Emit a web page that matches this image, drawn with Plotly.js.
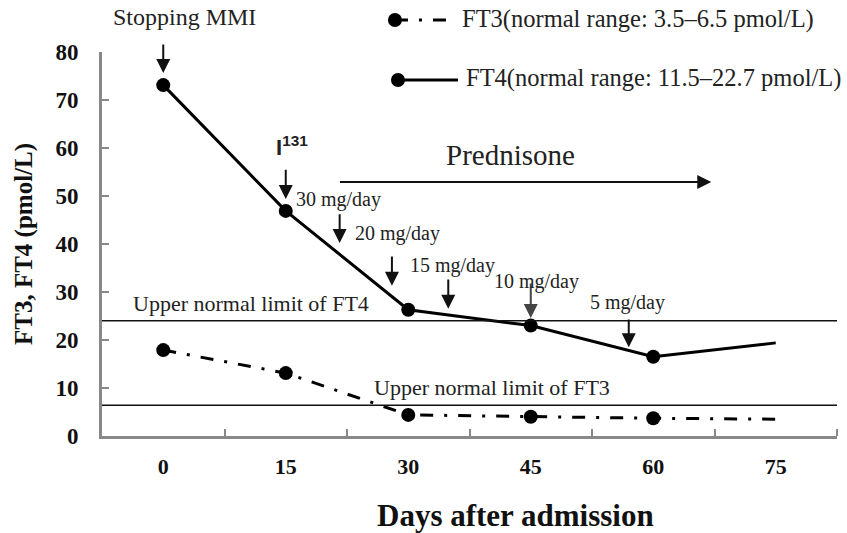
<!DOCTYPE html>
<html><head><meta charset="utf-8">
<script src="https://cdn.plot.ly/plotly-3.0.1.min.js"></script>
<style>html,body{margin:0;padding:0;background:#fff}</style>
</head><body><div id="chart" style="width:847px;height:533px"></div>
<script>
// ---- data ----
const days = [0, 15, 30, 45, 60, 75];
const ft3 = [17.9, 13.1, 4.4, 4.0, 3.7, 3.5];
const ft4 = [73.1, 46.9, 26.3, 23.0, 16.5, 19.4];
const markerSizes = [14, 14, 14, 14, 14, 0];
const ft4UpperLimitLine = 24;
const ft3UpperLimitLine = 6.4;
const xTickVals = [0, 15, 30, 45, 60, 75];
const xTickText = ['0', '15', '30', '45', '60', '75'];
const xMinorTicks = [7.5, 22.5, 37.5, 52.5, 67.5, 82.5];
const yTickVals = [0, 10, 20, 30, 40, 50, 60, 70, 80];
const yTickText = ['0', '10', '20', '30', '40', '50', '60', '70', '80'];
// dose change arrows: day, arrow tip value, arrow tail value
const arrowDays = [0, 15, 21.6, 28, 34.9, 45, 57];
const arrowTips = [75.6, 49.4, 40.2, 31.3, 26.5, 24.6, 18.5];
const arrowTails = [81.9, 55.8, 46.5, 37.7, 32.9, 32.1, 24.6];
const arrowColors = ['#111', '#111', '#111', '#111', '#111', '#444', '#111'];
const doseLabels = ['30 mg/day', '20 mg/day', '15 mg/day', '10 mg/day', '5 mg/day'];
const doseLabelX = [21.5, 28.7, 35.4, 45.7, 56.8];
const doseLabelY = [49.2, 42.1, 35.6, 32.1, 27.9];
const prednisoneStart = 21.45, prednisoneEnd = 67.1, prednisoneY = 52.9;

const serif = 'Liberation Serif, Times New Roman, serif';

const traces = [
  {x: days, y: ft3, type: 'scatter', mode: 'lines+markers', name: 'FT3',
   line: {color: '#000', width: 3, dash: '13px,11px,3px,11px'},
   marker: {color: '#000', size: markerSizes, opacity: 1, line: {width: 0}}, cliponaxis: false},
  {x: days, y: ft4, type: 'scatter', mode: 'lines+markers', name: 'FT4',
   line: {color: '#000', width: 3},
   marker: {color: '#000', size: markerSizes, opacity: 1, line: {width: 0}}, cliponaxis: false}
];

const annotations = [];
arrowDays.forEach((d, i) => {
  annotations.push({x: d, y: arrowTips[i], ax: d, ay: arrowTails[i], xref: 'x', yref: 'y', axref: 'x', ayref: 'y',
    text: '', showarrow: true, arrowhead: 2, arrowsize: 1.4, arrowwidth: 2, arrowcolor: arrowColors[i]});
});
annotations.push({x: prednisoneEnd, y: prednisoneY, ax: prednisoneStart, ay: prednisoneY, xref: 'x', yref: 'y', axref: 'x', ayref: 'y',
  text: '', showarrow: true, arrowhead: 2, arrowsize: 1.4, arrowwidth: 2, arrowcolor: '#111'});
doseLabels.forEach((t, i) => {
  annotations.push({x: doseLabelX[i], y: doseLabelY[i], xref: 'x', yref: 'y', text: t, showarrow: false,
    font: {family: serif, size: 20, color: '#222'}});
});
annotations.push({x: 42.5, y: 58.5, xref: 'x', yref: 'y', text: 'Prednisone', showarrow: false,
  font: {family: serif, size: 29, color: '#222'}});
annotations.push({x: 0.1116, y: 1.091, xref: 'paper', yref: 'paper', xanchor: 'center', yanchor: 'middle', text: 'Stopping MMI', showarrow: false,
  font: {family: serif, size: 24, color: '#222'}});
annotations.push({x: 15.8, y: 60.4, xref: 'x', yref: 'y', text: 'I<sup>131</sup>', showarrow: false,
  font: {family: 'Liberation Sans, Arial, sans-serif', size: 22, color: '#222', weight: 'bold'}});
annotations.push({x: 10.8, y: 27.7, xref: 'x', yref: 'y', text: 'Upper normal limit of FT4', showarrow: false,
  font: {family: serif, size: 22, color: '#222'}});
annotations.push({x: 40.2, y: 10.2, xref: 'x', yref: 'y', text: 'Upper normal limit of FT3', showarrow: false,
  font: {family: serif, size: 22, color: '#222'}});
// x-axis title (centred where the reference puts it)
annotations.push({x: 0.563, y: -0.206, xref: 'paper', yref: 'paper', xanchor: 'center', yanchor: 'middle', text: 'Days after admission', showarrow: false,
  font: {family: serif, size: 31, color: '#111', weight: 'bold'}});
// manual legend texts
annotations.push({x: 0.487, y: 1.086, xref: 'paper', yref: 'paper', xanchor: 'left', yanchor: 'middle', text: 'FT3(normal range: 3.5–6.5 pmol/L)', showarrow: false,
  font: {family: serif, size: 24.5, color: '#222'}});
annotations.push({x: 0.4925, y: 0.932, xref: 'paper', yref: 'paper', xanchor: 'left', yanchor: 'middle', text: 'FT4(normal range: 11.5–22.7 pmol/L)', showarrow: false,
  font: {family: serif, size: 24.5, color: '#222'}});

const shapes = [
  {type: 'line', xref: 'paper', yref: 'y', x0: 0, x1: 1, y0: ft4UpperLimitLine, y1: ft4UpperLimitLine, line: {color: '#111', width: 1.6}},
  {type: 'line', xref: 'paper', yref: 'y', x0: 0, x1: 1, y0: ft3UpperLimitLine, y1: ft3UpperLimitLine, line: {color: '#111', width: 1.6}},
  // legend symbols
  {type: 'line', xref: 'paper', yref: 'paper', x0: 0.3986, x1: 0.4735, y0: 1.0833, y1: 1.0833, line: {color: '#000', width: 3, dash: '13px,11px,3px,11px'}},
  {type: 'circle', xref: 'paper', yref: 'paper', xsizemode: 'pixel', ysizemode: 'pixel', xanchor: 0.3986, yanchor: 1.0833,
   x0: -7, x1: 7, y0: -7, y1: 7, fillcolor: '#000', line: {width: 0}},
  {type: 'line', xref: 'paper', yref: 'paper', x0: 0.4027, x1: 0.4844, y0: 0.927, y1: 0.927, line: {color: '#000', width: 3}},
  {type: 'circle', xref: 'paper', yref: 'paper', xsizemode: 'pixel', ysizemode: 'pixel', xanchor: 0.4027, yanchor: 0.927,
   x0: -7, x1: 7, y0: -7, y1: 7, fillcolor: '#000', line: {width: 0}}
];

const layout = {
  width: 847, height: 533,
  margin: {l: 102, r: 10, t: 52, b: 97},
  paper_bgcolor: '#fff', plot_bgcolor: '#fff',
  showlegend: false,
  xaxis: {range: [-7.5, 82.5], showgrid: false, zeroline: false,
    showline: true, linecolor: '#888', linewidth: 3,
    tickmode: 'array', tickvals: xTickVals, ticktext: xTickText, ticks: '',
    minor: {tickmode: 'array', tickvals: xMinorTicks, ticks: 'inside', ticklen: 7, tickwidth: 2, tickcolor: '#888', showgrid: false},
    tickfont: {family: serif, size: 22, color: '#111', weight: 'bold'}, ticklabelstandoff: 9},
  yaxis: {range: [0, 80], showgrid: false, zeroline: false,
    showline: true, linecolor: '#888', linewidth: 3,
    tickmode: 'array', tickvals: yTickVals, ticktext: yTickText, ticks: 'inside', ticklen: 7, tickwidth: 2, tickcolor: '#888',
    tickfont: {family: serif, size: 23, color: '#111', weight: 'bold'}, ticklabelstandoff: 16,
    title: {text: 'FT3, FT4 (pmol/L)', font: {family: serif, size: 25, color: '#111', weight: 'bold'}, standoff: 16}},
  annotations: annotations,
  shapes: shapes
};

Plotly.newPlot('chart', traces, layout, {displayModeBar: false, staticPlot: true});
</script></body></html>
